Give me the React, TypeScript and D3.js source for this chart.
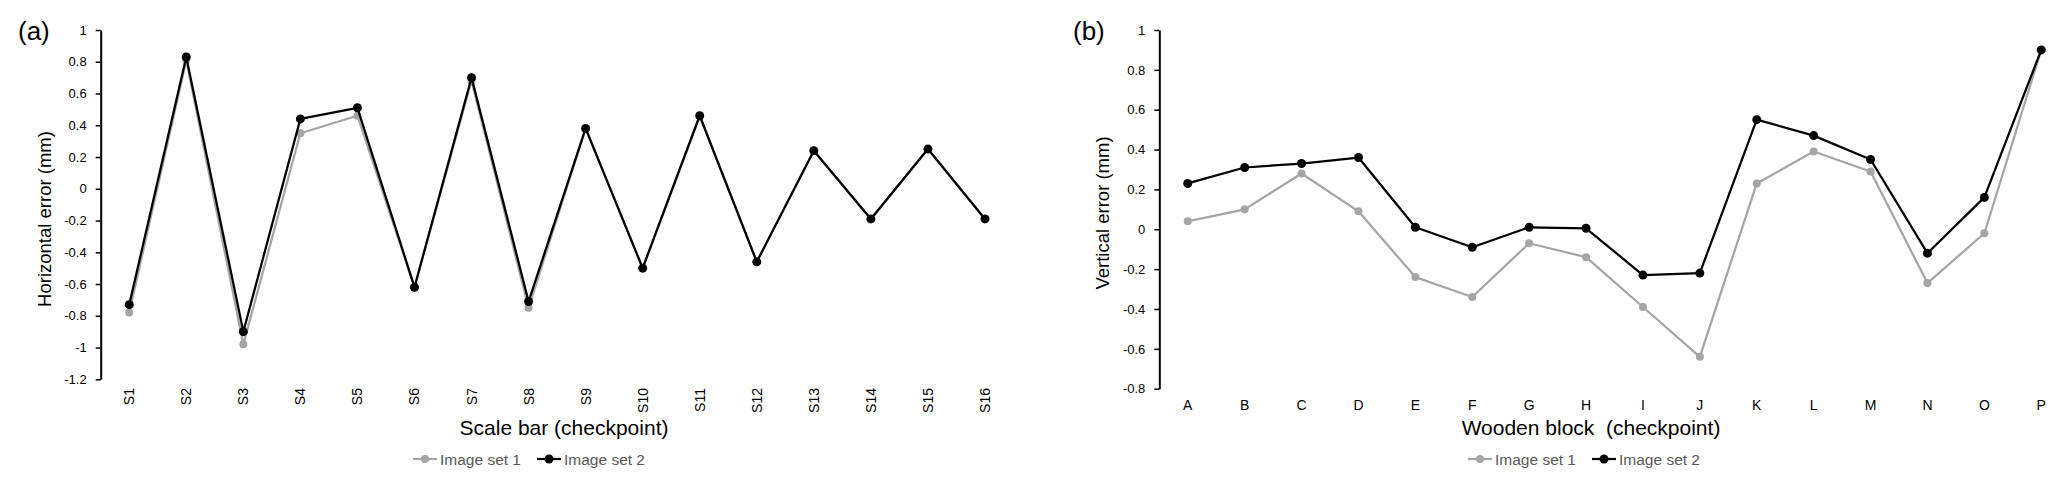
import React, { useEffect, useRef } from 'react';
import * as d3 from 'd3';

// chart (a) - scale bar checkpoints
const scaleBarPoints = ['S1', 'S2', 'S3', 'S4', 'S5', 'S6', 'S7', 'S8', 'S9', 'S10', 'S11', 'S12', 'S13', 'S14', 'S15', 'S16'];
const horizSet1 = [-0.78, 0.81, -0.98, 0.35, 0.46, -0.62, 0.68, -0.75, 0.38, -0.5, 0.46, -0.46, 0.24, -0.19, 0.25, -0.19];
const horizSet2 = [-0.73, 0.83, -0.9, 0.44, 0.51, -0.62, 0.7, -0.71, 0.38, -0.5, 0.46, -0.46, 0.24, -0.19, 0.25, -0.19];
const horizTicks = [1, 0.8, 0.6, 0.4, 0.2, 0, -0.2, -0.4, -0.6, -0.8, -1, -1.2];

// chart (b) - wooden block checkpoints
const woodenBlocks = ['A', 'B', 'C', 'D', 'E', 'F', 'G', 'H', 'I', 'J', 'K', 'L', 'M', 'N', 'O', 'P'];
const vertSet1 = [0.04, 0.1, 0.28, 0.09, -0.24, -0.34, -0.07, -0.14, -0.39, -0.64, 0.23, 0.39, 0.29, -0.27, -0.02, 0.9];
const vertSet2 = [0.23, 0.31, 0.33, 0.36, 0.01, -0.09, 0.01, 0.005, -0.23, -0.22, 0.55, 0.47, 0.35, -0.12, 0.16, 0.9];
const vertTicks = [1, 0.8, 0.6, 0.4, 0.2, 0, -0.2, -0.4, -0.6, -0.8];

const seriesNames = ['Image set 1', 'Image set 2'];
const seriesColors = ['#a5a5a5', '#000000'];
const markerRadius = [4, 4.5];

const FONT = '"Liberation Sans", Arial, sans-serif';

const panels = [
  {
    tag: '(a)', tagX: 18,
    cats: scaleBarPoints, series: [horizSet1, horizSet2], ticks: horizTicks,
    axisX: 100.7, band: 57.05, yTop: 30, yBottom: 379.3,
    rotateLabels: true,
    yTitle: 'Horizontal error (mm)', yTitleX: 44, yTitleY: 219,
    xTitle: 'Scale bar (checkpoint)', xTitleX: 564,
    legendX: 413,
  },
  {
    tag: '(b)', tagX: 1073,
    cats: woodenBlocks, series: [vertSet1, vertSet2], ticks: vertTicks,
    axisX: 1159.3, band: 56.9, yTop: 30, yBottom: 388.7,
    rotateLabels: false,
    yTitle: 'Vertical error (mm)', yTitleX: 1102, yTitleY: 213,
    xTitle: 'Wooden block  (checkpoint)', xTitleX: 1591,
    legendX: 1468,
  },
];

const App = () => {
  const svgRef = useRef<SVGSVGElement>(null);

  useEffect(() => {
    const svg = d3.select(svgRef.current);
    svg.selectAll('*').remove();
    svg.style('font-family', FONT);

    panels.forEach(p => {
      const g = svg.append('g');

      const x = d3.scaleBand()
        .domain(p.cats)
        .range([p.axisX, p.axisX + p.cats.length * p.band])
        .padding(0);
      const cx = (c: string) => (x(c) as number) + x.bandwidth() / 2;

      const y = d3.scaleLinear()
        .domain([d3.min(p.ticks) as number, d3.max(p.ticks) as number])
        .range([p.yBottom, p.yTop]);

      // y axis
      const yAxis = g.append('g')
        .attr('transform', `translate(${p.axisX},0)`)
        .call(d3.axisLeft(y)
          .tickValues(p.ticks)
          .tickSizeInner(5)
          .tickSizeOuter(0)
          .tickPadding(9)
          .tickFormat(d => String(+(+d).toFixed(1))));
      yAxis.select('.domain').attr('stroke', '#000').attr('stroke-width', 2);
      yAxis.selectAll('.tick line').attr('stroke', '#000').attr('stroke-width', 1.5);
      yAxis.selectAll('.tick text')
        .attr('fill', '#000')
        .style('font-size', '13px')
        .style('font-family', FONT);

      // x tick labels (no axis line)
      const labels = g.selectAll('.xlab')
        .data(p.cats)
        .enter().append('text')
        .attr('class', 'xlab')
        .attr('fill', '#000')
        .attr('font-size', 14)
        .text(d => d);
      if (p.rotateLabels) {
        labels
          .attr('transform', d => `translate(${cx(d)},388) rotate(-90)`)
          .attr('text-anchor', 'end')
          .attr('dominant-baseline', 'central');
      } else {
        labels
          .attr('x', d => cx(d))
          .attr('y', 410)
          .attr('text-anchor', 'middle');
      }

      // lines + markers, grey first so black sits on top
      p.series.forEach((vals, i) => {
        const pts = p.cats.map((c, j) => [cx(c), y(vals[j])] as [number, number]);
        g.append('path')
          .attr('d', d3.line()(pts))
          .attr('fill', 'none')
          .attr('stroke', seriesColors[i])
          .attr('stroke-width', 2.25)
          .attr('stroke-linejoin', 'round');
        g.selectAll(`.m${i}`)
          .data(pts)
          .enter().append('circle')
          .attr('class', `m${i}`)
          .attr('cx', d => d[0])
          .attr('cy', d => d[1])
          .attr('r', markerRadius[i])
          .attr('fill', seriesColors[i]);
      });

      // panel tag
      g.append('text')
        .attr('x', p.tagX)
        .attr('y', 40)
        .attr('font-size', 26)
        .attr('fill', '#000')
        .text(p.tag);

      // axis titles
      g.append('text')
        .attr('transform', `translate(${p.yTitleX},${p.yTitleY}) rotate(-90)`)
        .attr('text-anchor', 'middle')
        .attr('dominant-baseline', 'central')
        .attr('font-size', 18.5)
        .attr('fill', '#000')
        .text(p.yTitle);

      g.append('text')
        .attr('x', p.xTitleX)
        .attr('y', 435)
        .attr('text-anchor', 'middle')
        .attr('font-size', 21)
        .attr('fill', '#000')
        .style('white-space', 'pre')
        .text(p.xTitle);

      // legend
      let lx = p.legendX;
      seriesNames.forEach((name, i) => {
        const ly = 459;
        g.append('line')
          .attr('x1', lx).attr('x2', lx + 24)
          .attr('y1', ly).attr('y2', ly)
          .attr('stroke', seriesColors[i])
          .attr('stroke-width', 2.25);
        g.append('circle')
          .attr('cx', lx + 12).attr('cy', ly)
          .attr('r', markerRadius[i])
          .attr('fill', seriesColors[i]);
        const t = g.append('text')
          .attr('x', lx + 27)
          .attr('y', ly)
          .attr('dominant-baseline', 'central')
          .attr('font-size', 15.5)
          .attr('fill', '#595959')
          .text(name);
        const w = (t.node() as SVGTextElement).getComputedTextLength();
        lx += 27 + w + 16;
      });
    });
  }, []);

  return (
    <svg
      ref={svgRef}
      width={2067}
      height={487}
      style={{ position: 'absolute', left: 0, top: 0, background: '#fff' }}
    ></svg>
  );
};

export default App;
